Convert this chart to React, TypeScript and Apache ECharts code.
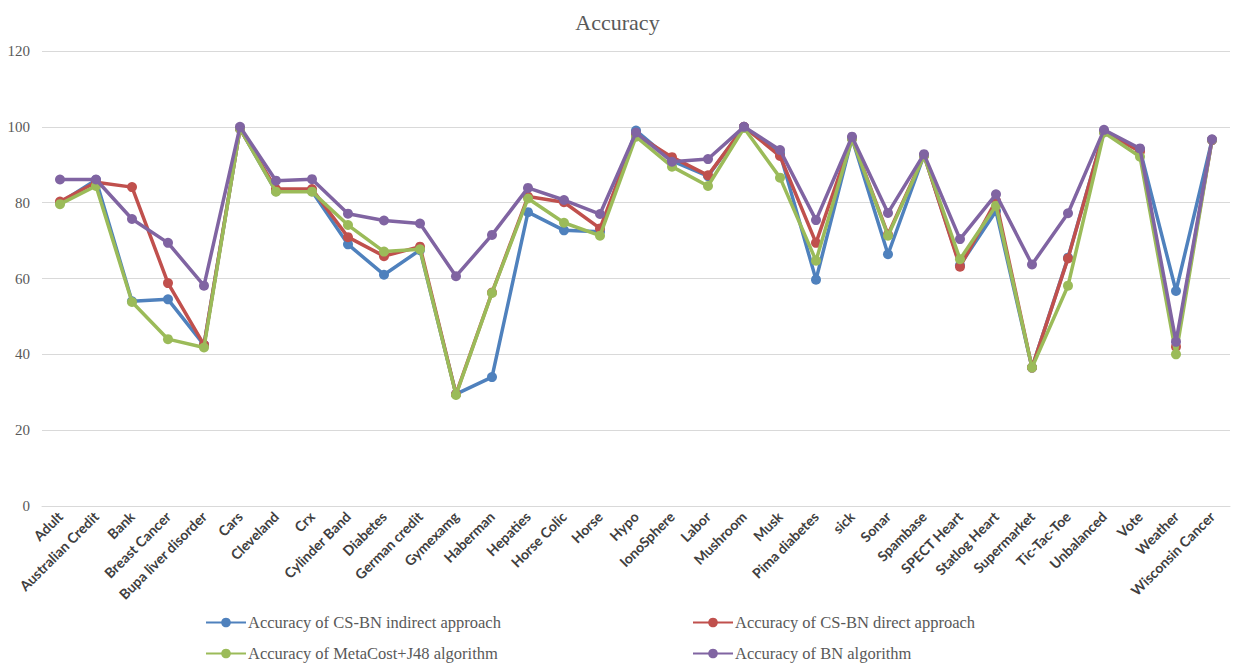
import React, { useEffect, useRef } from "react";
import * as echarts from "echarts";

const categories = [
  "Adult", "Australian Credit", "Bank", "Breast Cancer", "Bupa liver disorder", "Cars",
  "Cleveland", "Crx", "Cylinder Band", "Diabetes", "German credit", "Gymexamg",
  "Haberman", "Hepaties", "Horse Colic", "Horse", "Hypo", "IonoSphere", "Labor",
  "Mushroom", "Musk", "Pima diabetes", "sick", "Sonar", "Spambase", "SPECT Heart",
  "Statlog Heart", "Supermarket", "Tic-Tac-Toe", "Unbalanced", "Vote", "Weather",
  "Wisconsin Cancer",
];

const indirect = [80, 86, 54, 54.5, 42.5, 99.5, 83, 83, 69, 61, 67.5, 29.5, 34, 77.5, 72.7, 72.3, 99, 91, 87, 100, 93, 59.7, 97, 66.4, 92.5, 63.5, 77.8, 36.5, 65.5, 98.7, 94, 56.7, 96.5];
const direct = [80.3, 85.4, 84.1, 58.8, 42.5, 99.5, 83.6, 83.6, 70.9, 65.9, 68.4, 29.5, 56.3, 81.6, 80.1, 73.2, 98, 92, 87.2, 100, 92.3, 69.4, 97, 71.6, 92.5, 63.1, 80.5, 36.5, 65.3, 98.7, 93.5, 42, 96.5];
const metacost = [79.6, 84.4, 53.8, 44, 41.8, 99.5, 82.9, 82.9, 74.1, 67.1, 67.7, 29.3, 56.2, 81.1, 74.7, 71.3, 97.4, 89.5, 84.4, 99.7, 86.6, 64.7, 96.8, 71.3, 92.3, 65.1, 79.2, 36.5, 58.1, 98.5, 92.1, 40, 96.6];
const bn = [86.1, 86.1, 75.7, 69.4, 58.1, 100, 85.8, 86.2, 77.1, 75.3, 74.5, 60.6, 71.5, 83.9, 80.7, 77, 98.5, 90.8, 91.5, 100, 93.9, 75.4, 97.4, 77.3, 92.8, 70.4, 82.2, 63.7, 77.2, 99.2, 94.3, 43.3, 96.7];

const seriesNames = [
  "Accuracy of CS-BN indirect approach",
  "Accuracy of CS-BN direct approach",
  "Accuracy of MetaCost+J48 algorithm",
  "Accuracy of BN algorithm",
];
const colors = ["#4F81BD", "#C0504D", "#9BBB59", "#8064A2"];
const yTicks = { min: 0, max: 120, interval: 20 };

export default function App() {
  const ref = useRef<HTMLDivElement>(null);
  useEffect(() => {
    if (!ref.current) return;
    document.body.style.margin = "0";
    const chart = echarts.init(ref.current, null, { renderer: "svg" });
    const datasets = [indirect, direct, metacost, bn];
    const legendText = {
      fontFamily: "Liberation Serif, Times New Roman, serif",
      fontSize: 16.5,
      color: "#595959",
      padding: [0, 0, 0, -3],
    };
    const legendPos = [
      { left: 205, top: 614 },
      { left: 692, top: 614 },
      { left: 205, top: 645 },
      { left: 692, top: 645 },
    ];
    chart.setOption({
      animation: false,
      color: colors,
      title: {
        text: "Accuracy",
        left: "center",
        top: 6,
        textStyle: {
          fontFamily: "Liberation Serif, Times New Roman, serif",
          fontSize: 22,
          fontWeight: "normal",
          color: "#595959",
        },
      },
      legend: seriesNames.map((n, i) => ({
        data: [n],
        left: legendPos[i].left,
        top: legendPos[i].top,
        padding: 0,
        itemWidth: 40,
        itemHeight: 12,
        textStyle: legendText,
      })),
      grid: { left: 42, right: 5, top: 51, bottom: 160, containLabel: false },
      xAxis: {
        type: "category",
        data: categories,
        boundaryGap: true,
        axisLine: { lineStyle: { color: "#d9d9d9", width: 1 } },
        axisTick: { show: false },
        axisLabel: {
          rotate: 45,
          interval: 0,
          margin: 8,
          fontFamily: "Lato, Liberation Sans, sans-serif",
          fontWeight: "bold",
          fontSize: 14,
          color: "#404040",
        },
      },
      yAxis: {
        type: "value",
        min: yTicks.min,
        max: yTicks.max,
        interval: yTicks.interval,
        axisLine: { show: false },
        axisTick: { show: false },
        splitLine: { lineStyle: { color: "#d9d9d9", width: 1 } },
        axisLabel: {
          margin: 12,
          fontFamily: "Liberation Serif, Times New Roman, serif",
          fontSize: 15,
          color: "#595959",
        },
      },
      series: datasets.map((d, i) => ({
        name: seriesNames[i],
        type: "line",
        data: d,
        symbol: "circle",
        symbolSize: 10,
        lineStyle: { width: 3.5, color: colors[i] },
        itemStyle: { color: colors[i] },
        z: 2 + i,
      })),
    });
    return () => chart.dispose();
  }, []);
  return <div ref={ref} style={{ width: 1235, height: 666 }} />;
}
